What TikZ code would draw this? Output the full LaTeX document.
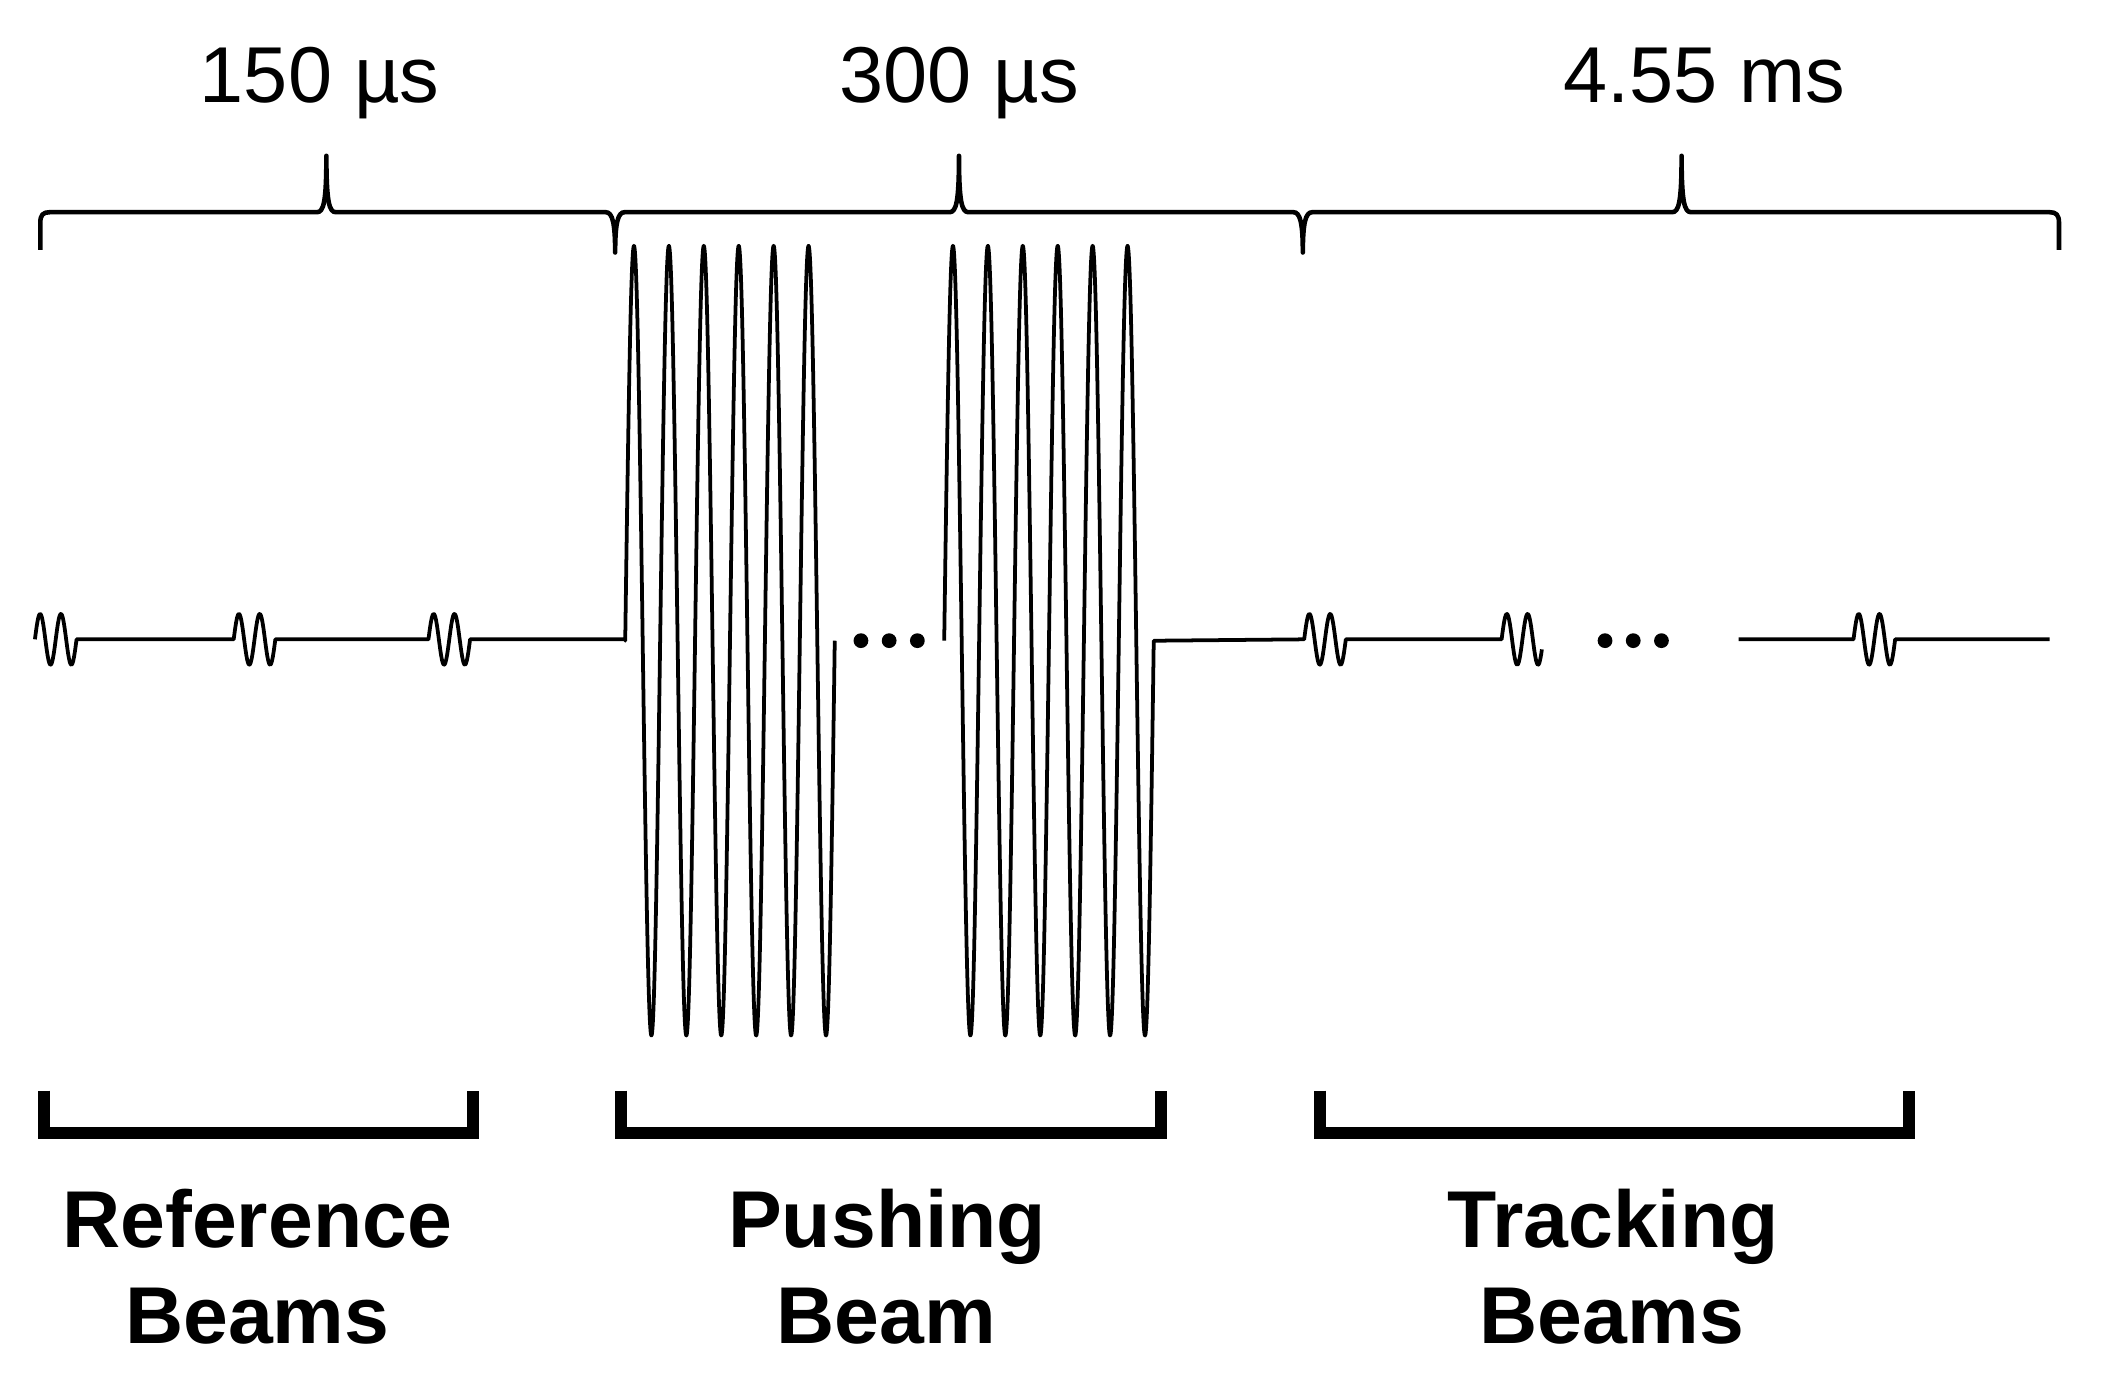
\documentclass[tikz,border=0pt]{standalone}
\usepackage{fontspec}
\setmainfont{Liberation Sans}
\begin{document}
\begin{tikzpicture}[x=0.5pt,y=-0.5pt,
  sig/.style={line width=1.4pt, line join=round},
  bracestyle/.style={line width=1.7pt, line join=round},
  bracket/.style={line width=4.5pt, line join=miter},
  toplbl/.style={font=\fontsize{29.5}{35}\selectfont, inner sep=0pt, anchor=base},
  botlbl/.style={font=\fontsize{30}{36}\selectfont\bfseries, inner sep=0pt, anchor=base},
  dotstyle/.style={circle, fill=black, draw=none, inner sep=0pt, minimum size=5.5pt}]
\useasboundingbox (0,0) rectangle (1568,1037);

% top braces
\draw[bracestyle] (30,186) -- (30,166) .. controls (30,160) and (32,158) .. (37,158)
  -- (236,158) .. controls (241,158) and (243,150) .. (243,116)
  .. controls (243,150) and (245,158) .. (250,158)
  -- (451,158) .. controls (456,158) and (458,166) .. (458,188)
  .. controls (458,166) and (460,158) .. (465,158)
  -- (707,158) .. controls (712,158) and (714,150) .. (714,116)
  .. controls (714,150) and (716,158) .. (721,158)
  -- (963,158) .. controls (968,158) and (970,166) .. (970,188)
  .. controls (970,166) and (972,158) .. (977,158)
  -- (1245,158) .. controls (1250,158) and (1252,150) .. (1252,116)
  .. controls (1252,150) and (1254,158) .. (1259,158)
  -- (1526,158) .. controls (1531,158) and (1533,160) .. (1533,166) -- (1533,186);

\node[toplbl] (t1) at (238,76) {150 µs};
\node[toplbl] (t2) at (714,76) {300 µs};
\node[toplbl] (t3) at (1269,76) {4.55 ms};

% reference beams and first push group
\draw[sig] plot[domain=0:31,samples=50] ({26+\x},{476-19*sin(\x/31*720)})
  -- (174,476) -- plot[domain=0:31,samples=50] ({174+\x},{476-19*sin(\x/31*720)})
  -- (319,476) -- plot[domain=0:31,samples=50] ({319+\x},{476-19*sin(\x/31*720)})
  -- (465.5,476) -- plot[domain=0:156,samples=700] ({465.5+\x},{477-294*sin(\x/26*360)});

\node[dotstyle] (d1) at (641,477) {};
\node[dotstyle] (d2) at (662,477) {};
\node[dotstyle] (d3) at (683,477) {};

% second push group and tracking beams
\draw[sig] plot[domain=0:156,samples=700] ({703+\x},{477-294*sin(\x/26*360)})
  -- (971,476) -- plot[domain=0:31,samples=50] ({971+\x},{476-19*sin(\x/31*720)})
  -- (1118,476) -- plot[domain=0:30,samples=50] ({1118+\x},{476-19*sin(\x/31*720)});

\node[dotstyle] (d4) at (1195,477) {};
\node[dotstyle] (d5) at (1216,477) {};
\node[dotstyle] (d6) at (1237,477) {};

\draw[sig] (1294.5,476) -- (1380,476)
  -- plot[domain=0:31,samples=50] ({1380+\x},{476-19*sin(\x/31*720)})
  -- (1526,476);

% bottom brackets
\draw[bracket] (32.5,812) -- (32.5,843.5) -- (352.5,843.5) -- (352.5,812);
\draw[bracket] (462.5,812) -- (462.5,843.5) -- (864.5,843.5) -- (864.5,812);
\draw[bracket] (982.5,812) -- (982.5,843.5) -- (1421.5,843.5) -- (1421.5,812);

\node[botlbl] (r1) at (191.5,929) {Reference};
\node[botlbl] (r2) at (191.5,1000) {Beams};
\node[botlbl] (p1) at (660.5,929) {Pushing};
\node[botlbl] (p2) at (660,1000) {Beam};
\node[botlbl] (k1) at (1201,929) {Tracking};
\node[botlbl] (k2) at (1200,1000) {Beams};
\end{tikzpicture}
\end{document}
